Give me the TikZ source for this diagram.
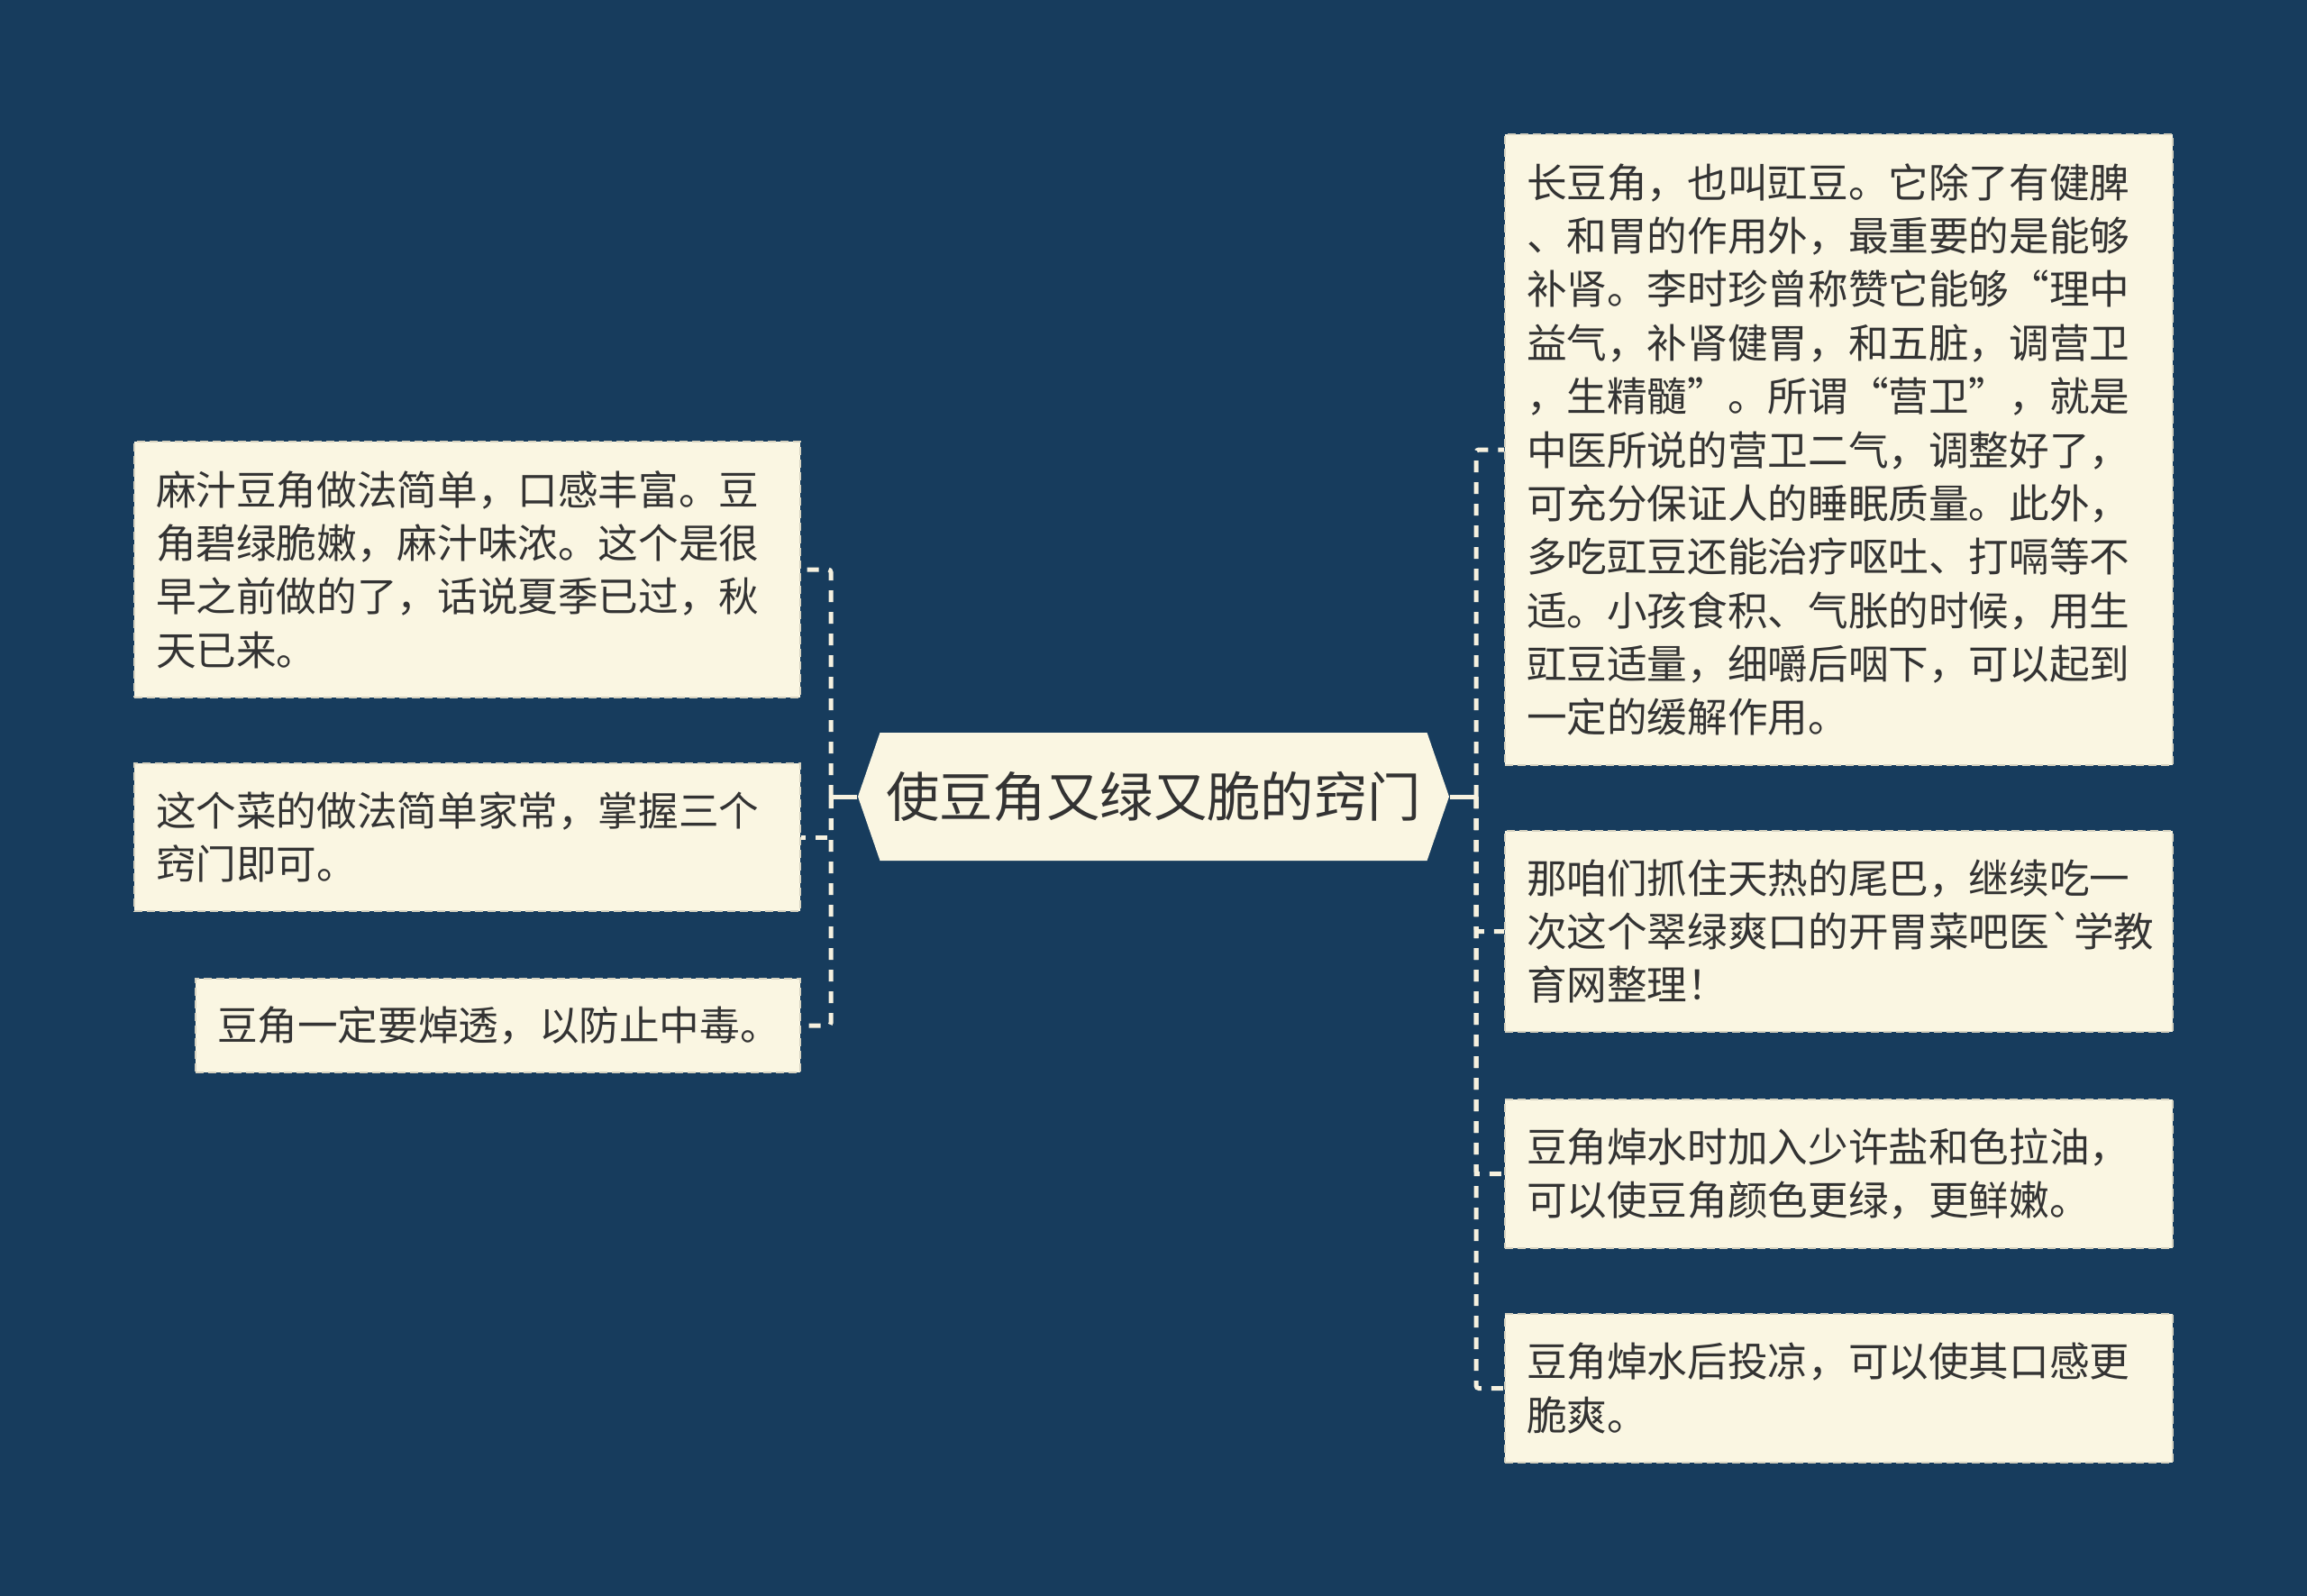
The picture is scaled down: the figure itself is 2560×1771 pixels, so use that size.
\documentclass[tikz,border=0pt]{standalone}
\usepackage{fontspec}
\newfontfamily\cjk{Noto Sans CJK SC}
\usetikzlibrary{shapes.symbols}

\begin{document}
\begin{tikzpicture}[x=0.1mm,y=-0.1mm,
    hoja/.style={draw=borde,line width=0.2mm,dash pattern=on 0.9mm off 0.5mm,fill=crema,text=tinta,
        font=\cjk\fontsize{12.7pt}{16.9pt}\selectfont,align=left,inner xsep=2.4mm,inner ysep=0pt},
    raiz/.style={shape=signal,signal to=west and east,signal pointer angle=142,fill=crema,text=tinta,
        font=\cjk\fontsize{16.9pt}{20pt}\selectfont,minimum width=65.6mm,minimum height=14.2mm,inner sep=0pt},
    rama/.style={draw=linea,line width=0.5mm,dash pattern=on 1.3mm off 1.1mm,rounded corners=0.3mm},
    tallo/.style={draw=linea,line width=0.5mm}]
    %colores
    \definecolor{fondo}{HTML}{173C5D}
    \definecolor{crema}{HTML}{FAF6E2}
    \definecolor{borde}{HTML}{D6D2C0}
    \definecolor{linea}{HTML}{F6F1DF}
    \definecolor{tinta}{HTML}{333333}

    % Fondo
    \fill[fondo] (0,0) rectangle (2560,1771);
    \useasboundingbox (0,0) rectangle (2560,1771);

    % Nodo central
    \node[raiz] (raiz) at (1280,884) {使豆角又绿又脆的窍门};

    % Hojas izquierda
    \node[hoja,text width=69.1mm,minimum height=28.4mm] (h1) at (518.5,632)
        {麻汁豆角做法简单，口感丰富。豆\\角碧绿脆嫩，麻汁味浓。这个是很\\早之前做的了，话说夏季已过，秋\\天已来。};
    \node[hoja,text width=69.1mm,minimum height=16.4mm] (h2) at (518.5,929)
        {这个菜的做法简单家常，掌握三个\\窍门即可。};
    \node[hoja,text width=62.3mm,minimum height=10.4mm] (h3) at (552.5,1138)
        {豆角一定要焯透，以防止中毒。};

    % Hojas derecha
    \node[hoja,text width=69.3mm,minimum height=70mm] (d1) at (2040.5,499)
        {长豆角，也叫豇豆。它除了有健脾\\、和胃的作用外，最重要的是能够\\补肾。李时珍曾称赞它能够“理中\\益气，补肾健胃，和五脏，调营卫\\，生精髓”。所谓“营卫”，就是\\中医所说的营卫二气，调整好了，\\可充分保证人的睡眠质量。此外，\\多吃豇豆还能治疗呕吐、打嗝等不\\适。小孩食积、气胀的时候，用生\\豇豆适量，细嚼后咽下，可以起到\\一定的缓解作用。};
    \node[hoja,text width=69.3mm,minimum height=22.3mm] (d2) at (2040.5,1033.5)
        {那咱们抓住天热的尾巴，继续吃一\\次这个翠绿爽口的开胃菜吧医\textasciigrave 学教\\育网整理！};
    \node[hoja,text width=69.3mm,minimum height=16.5mm] (d3) at (2040.5,1302.5)
        {豆角焯水时加入少许盐和色拉油，\\可以使豆角颜色更绿，更鲜嫩。};
    \node[hoja,text width=69.3mm,minimum height=16.5mm] (d4) at (2040.5,1540.5)
        {豆角焯水后投凉，可以使其口感更\\脆爽。};

    % Conectores
    \coordinate (izq) at (922,884);
    \coordinate (der) at (1638,884);
    \draw[tallo] (raiz.west) -- (izq);
    \draw[tallo] (raiz.east) -- (der);
    \foreach \n in {h1,h2,h3}
        \draw[rama] (izq) |- (\n.east);
    \foreach \n in {d1,d2,d3,d4}
        \draw[rama] (der) |- (\n.west);
\end{tikzpicture}
\end{document}
